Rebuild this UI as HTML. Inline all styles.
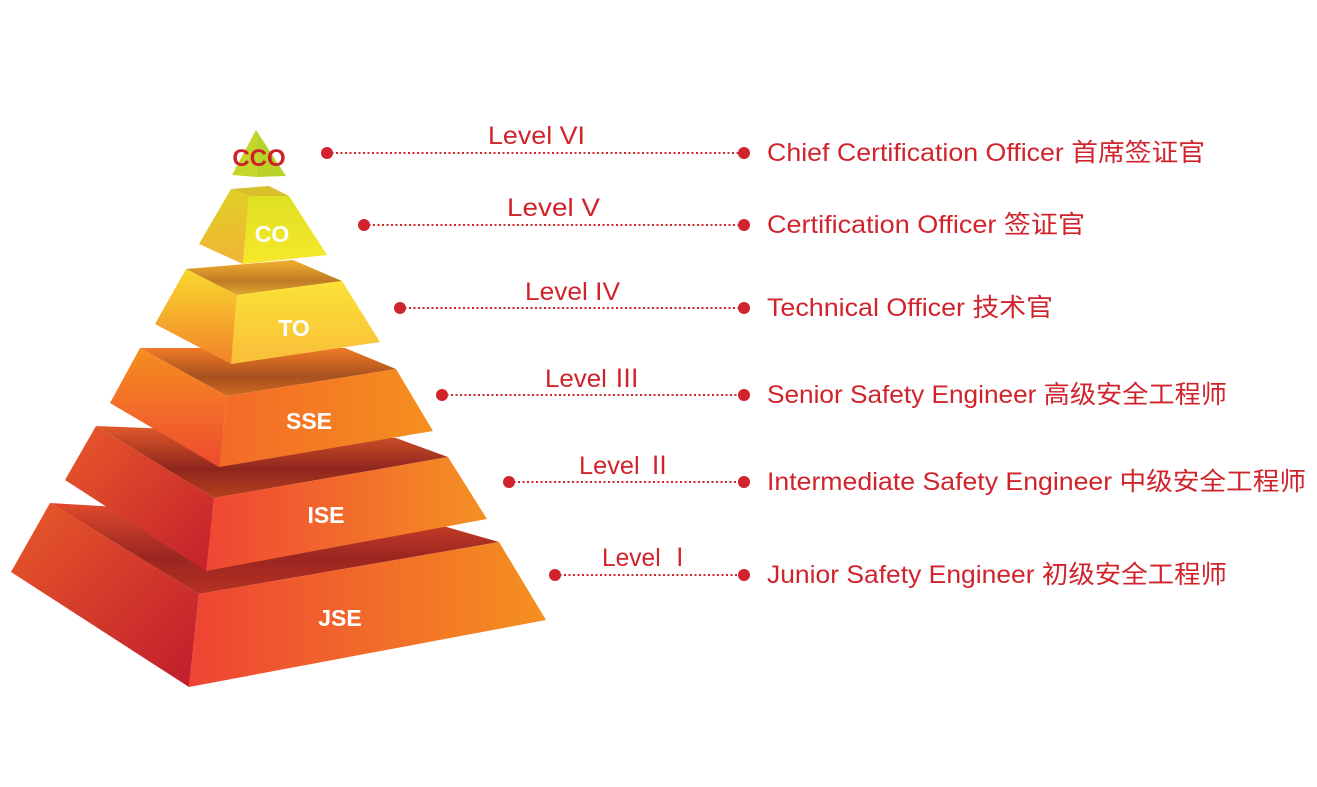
<!DOCTYPE html>
<html><head><meta charset="utf-8"><style>html,body{margin:0;padding:0;background:#fff}svg{display:block}</style></head><body>
<svg width="1317" height="787" viewBox="0 0 1317 787" xmlns="http://www.w3.org/2000/svg">
<defs>
<linearGradient id="fj" x1="0" y1="0" x2="1" y2="0"><stop offset="0" stop-color="#ee4434"/><stop offset="1" stop-color="#f59020"/></linearGradient>
<linearGradient id="lj" x1="0" y1="0" x2="1" y2="1"><stop offset="0" stop-color="#e85a2a"/><stop offset="1" stop-color="#c01c2c"/></linearGradient>
<linearGradient id="fi" x1="0" y1="0" x2="1" y2="0"><stop offset="0" stop-color="#ef4634"/><stop offset="1" stop-color="#f59122"/></linearGradient>
<linearGradient id="li" x1="0" y1="0" x2="1" y2="1"><stop offset="0" stop-color="#e9592a"/><stop offset="1" stop-color="#c3202c"/></linearGradient>
<linearGradient id="fs" x1="0" y1="0" x2="1" y2="0"><stop offset="0" stop-color="#f36a28"/><stop offset="1" stop-color="#f5901f"/></linearGradient>
<linearGradient id="ls" x1="0" y1="0" x2="0" y2="1"><stop offset="0" stop-color="#f58f20"/><stop offset="1" stop-color="#ef4a30"/></linearGradient>
<linearGradient id="ft" x1="0" y1="0" x2="0" y2="1"><stop offset="0" stop-color="#fbe236"/><stop offset="1" stop-color="#f9be3a"/></linearGradient>
<linearGradient id="lt" x1="0" y1="0" x2="0" y2="1"><stop offset="0" stop-color="#f9d82e"/><stop offset="1" stop-color="#f2822a"/></linearGradient>
<linearGradient id="fc" x1="0" y1="0" x2="0" y2="1"><stop offset="0" stop-color="#dfe024"/><stop offset="1" stop-color="#f6e82a"/></linearGradient>
<linearGradient id="lc" x1="0" y1="0" x2="0" y2="1"><stop offset="0" stop-color="#e0d026"/><stop offset="1" stop-color="#f1b436"/></linearGradient>
<linearGradient id="tj" x1="0" y1="0" x2="0" y2="1"><stop offset="0" stop-color="#e04a2c"/><stop offset="0.6" stop-color="#9a2620"/><stop offset="1" stop-color="#b83024"/></linearGradient>
<linearGradient id="ti" x1="0" y1="0" x2="0" y2="1"><stop offset="0" stop-color="#e05a2a"/><stop offset="0.6" stop-color="#8f261e"/><stop offset="1" stop-color="#b8401e"/></linearGradient>
<linearGradient id="ts" x1="0" y1="0" x2="0" y2="1"><stop offset="0" stop-color="#f07a26"/><stop offset="0.6" stop-color="#a8501e"/><stop offset="1" stop-color="#d06a20"/></linearGradient>
<linearGradient id="tt" x1="0" y1="0" x2="0" y2="1"><stop offset="0" stop-color="#f2b030"/><stop offset="0.6" stop-color="#c07a26"/><stop offset="1" stop-color="#e0a82c"/></linearGradient>
</defs>
<polygon points="50,503 199,594 499,542 443,526" fill="url(#tj)"/>
<polygon points="50,503 11,572 189,687 199,594" fill="url(#lj)"/>
<polygon points="199,594 499,542 546,620 189,687" fill="url(#fj)"/>
<polygon points="96,426 214,498 448,457 396,438" fill="url(#ti)"/>
<polygon points="96,426 65,480 206,571 214,498" fill="url(#li)"/>
<polygon points="214,498 448,457 487,519 206,571" fill="url(#fi)"/>
<polygon points="140,348 227,396 396,369 345,348" fill="url(#ts)"/>
<polygon points="140,348 110,403 219,467 227,396" fill="url(#ls)"/>
<polygon points="227,396 396,369 433,431 219,467" fill="url(#fs)"/>
<polygon points="186,269 237,295 342,281 293,260" fill="url(#tt)"/>
<polygon points="186,269 155,324 231,364 237,295" fill="url(#lt)"/>
<polygon points="237,295 342,281 380,342 231,364" fill="url(#ft)"/>
<polygon points="231,189 249,196 289,196 269,186" fill="#d8c02a"/>
<polygon points="231,189 199,244 243,264 249,196" fill="url(#lc)"/>
<polygon points="249,196 289,196 327,255 243,264" fill="url(#fc)"/>
<polygon points="256,130 232,175 257,177" fill="#c6d52a"/>
<polygon points="256,130 257,177 286,176" fill="#b8d22a"/>
<g font-family="Liberation Sans, sans-serif" font-weight="bold" text-anchor="middle">
<text x="259" y="166" font-size="24" fill="#cc2128">CCO</text>
<text x="272" y="242" font-size="23" fill="#fff">CO</text>
<text x="294" y="336" font-size="23" fill="#fff">TO</text>
<text x="309" y="429" font-size="23" fill="#fff">SSE</text>
<text x="326" y="523" font-size="23" fill="#fff">ISE</text>
<text x="340" y="626" font-size="23" fill="#fff">JSE</text>
</g>
<g stroke="#d0232c" stroke-width="2" stroke-dasharray="2,2.5">
<line x1="327" y1="153" x2="744" y2="153"/>
<line x1="364" y1="225" x2="744" y2="225"/>
<line x1="400" y1="308" x2="744" y2="308"/>
<line x1="442" y1="395" x2="744" y2="395"/>
<line x1="509" y1="482" x2="744" y2="482"/>
<line x1="555" y1="575" x2="744" y2="575"/>
</g>
<g fill="#d0232c">
<circle cx="327" cy="153" r="6"/><circle cx="744" cy="153" r="6"/>
<circle cx="364" cy="225" r="6"/><circle cx="744" cy="225" r="6"/>
<circle cx="400" cy="308" r="6"/><circle cx="744" cy="308" r="6"/>
<circle cx="442" cy="395" r="6"/><circle cx="744" cy="395" r="6"/>
<circle cx="509" cy="482" r="6"/><circle cx="744" cy="482" r="6"/>
<circle cx="555" cy="575" r="6"/><circle cx="744" cy="575" r="6"/>
</g>
<g font-family="Liberation Sans, 'Noto Sans CJK SC', sans-serif" font-size="25" fill="#d0232c">
<text x="488" y="144" textLength="97" lengthAdjust="spacingAndGlyphs">Level VI</text>
<text x="507" y="216" textLength="93" lengthAdjust="spacingAndGlyphs">Level  V</text>
<text x="525" y="300" textLength="95" lengthAdjust="spacingAndGlyphs">Level IV</text>
<text x="545" y="387" textLength="95" lengthAdjust="spacingAndGlyphs">Level Ⅲ</text>
<text x="579" y="474" textLength="93" lengthAdjust="spacingAndGlyphs">Level  Ⅱ</text>
<text x="602" y="566" textLength="90" lengthAdjust="spacingAndGlyphs">Level  Ⅰ</text>
<text x="767" y="161" textLength="438" lengthAdjust="spacingAndGlyphs">Chief Certification Officer 首席签证官</text>
<text x="767" y="233" textLength="318" lengthAdjust="spacingAndGlyphs">Certification Officer 签证官</text>
<text x="767" y="316" textLength="286" lengthAdjust="spacingAndGlyphs">Technical Officer 技术官</text>
<text x="767" y="403" textLength="460" lengthAdjust="spacingAndGlyphs">Senior Safety Engineer 高级安全工程师</text>
<text x="767" y="490" textLength="539" lengthAdjust="spacingAndGlyphs">Intermediate Safety Engineer 中级安全工程师</text>
<text x="767" y="583" textLength="460" lengthAdjust="spacingAndGlyphs">Junior Safety Engineer 初级安全工程师</text>
</g>
</svg>
</body></html>
